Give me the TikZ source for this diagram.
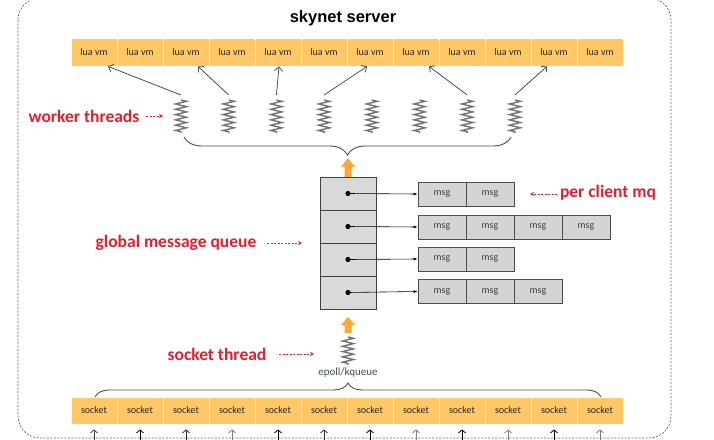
\documentclass[tikz,border=0pt]{standalone}
\usepackage{fontspec}
\setmainfont{Carlito}
\newfontfamily\titlefont{Liberation Sans}
\usetikzlibrary{arrows.meta,decorations.pathreplacing,decorations.pathmorphing,calc}
\definecolor{cellor}{HTML}{FFC766}
\definecolor{redlab}{HTML}{E0202E}
\definecolor{qgray}{HTML}{D9D9D9}
\definecolor{mgray}{HTML}{D4D4D4}
\definecolor{arror}{HTML}{FFA737}
\definecolor{epcol}{HTML}{3F4D5E}
\begin{document}
\begin{tikzpicture}[x=1pt,y=-1pt,
  cell/.style={draw=white, line width=0.8pt, fill=cellor, minimum width=46pt, minimum height=28pt, inner sep=0pt, font=\fontsize{10}{12}\selectfont, text=black!85},
  sockcell/.style={cell, minimum height=27pt},
  qrow/.style={draw=black!75, line width=0.8pt, fill=qgray, minimum width=56pt, minimum height=33pt, inner sep=0pt},
  msgcell/.style={draw=black!70, line width=0.8pt, fill=mgray, minimum width=48pt, minimum height=24pt, inner sep=0pt, font=\fontsize{10}{12}\selectfont, text=black!75},
  springst/.style={draw=black!55, line width=1.4pt, decorate, decoration={zigzag, segment length=5.3pt, amplitude=5.5pt}},
  warr/.style={draw=black!70, line width=0.8pt, -{Straight Barb[length=4pt,width=8pt]}},
  qarr/.style={draw=black, line width=0.6pt, -{Latex[length=4pt,width=3pt]}},
  sarr/.style={line width=0.8pt, -{Straight Barb[length=3pt,width=7pt]}, shorten >=5pt},
  brc/.style={draw=black!70, line width=0.9pt, decorate},
  redl/.style={text=redlab, font=\bfseries\fontsize{17.5}{20}\selectfont, inner sep=0pt},
  rdash/.style={draw=redlab, line width=0.7pt, dash pattern=on 2pt off 1.5pt, -{Stealth[length=4pt,width=4pt]}},
  framest/.style={draw=black!60, line width=0.7pt, dash pattern=on 2pt off 1.5pt, rounded corners=22pt},
  uparr/.pic={\fill[arror] (-3.5,0) -- (-3.5,-11) -- (-7,-11) -- (0,-20) -- (7,-11) -- (3.5,-11) -- (3.5,0) -- cycle;},
  uparrs/.pic={\fill[arror] (-3.5,0) -- (-3.5,-8) -- (-7,-8) -- (0,-16) -- (7,-8) -- (3.5,-8) -- (3.5,0) -- cycle;}
]
\useasboundingbox (0,0) rectangle (714,439);
% frame
\draw[framest] (18,-2) rectangle (671,438);
% title
\node[font=\titlefont\bfseries\fontsize{16.5}{18}\selectfont] (T) at (343,18) {skynet server};
% lua vm row
\foreach \i in {1,...,12} \node[cell] (L\i) at ({94+46*(\i-1)},52) {lua vm};
% worker springs
\foreach \i in {1,...,8} {
  \coordinate (W\i) at ({181+47.7*(\i-1)},95);
  \draw[springst] ($(W\i)+(0,5)$) -- ++(0,33);
}
% worker arrows
\draw[warr] (W1) -- ([xshift=14pt]L1.south);
\draw[warr] (W2) -- ([xshift=12pt]L3.south);
\draw[warr] (W3) -- ([xshift=1pt]L5.south);
\draw[warr] (W4) -- ([xshift=-3pt]L7.south);
\draw[warr] (W7) -- ([xshift=13pt]L8.south);
\draw[warr] (W8) -- ([xshift=-7pt]L11.south);
% upper brace
\coordinate (B1a) at (184,137);
\coordinate (B1b) at (511,137);
\draw[brc, decoration={brace, mirror, amplitude=18pt, aspect=0.5}] (B1a) -- (B1b);
% orange arrow to queue
\pic at (348,178) {uparr};
% global queue
\foreach \i in {1,...,4} {
  \node[qrow] (Q\i) at (348,{193.5+33*(\i-1)}) {};
  \fill (Q\i.center) circle (2.6pt);
}
% msg queues
\foreach \c in {1,2} \node[msgcell] (Ma\c) at ({442+48*(\c-1)},194) {msg};
\foreach \c in {1,...,4} \node[msgcell] (Mb\c) at ({442+48*(\c-1)},227) {msg};
\foreach \c in {1,2} \node[msgcell] (Mc\c) at ({442+48*(\c-1)},259) {msg};
\foreach \c in {1,...,3} \node[msgcell] (Md\c) at ({442+48*(\c-1)},291.5) {msg};
\draw[qarr] (Q1.center) -- (Ma1.west);
\draw[qarr] (Q2.center) -- (Mb1.west);
\draw[qarr] (Q3.center) -- (Mc1.west);
\draw[qarr] (Q4.center) -- (Md1.west);
% orange arrow from socket thread
\pic at (348,333) {uparrs};
% socket spring
\coordinate (SP) at (348,337);
\draw[springst] (SP) -- ++(0,28);
\node[font=\fontsize{11}{13}\selectfont, text=epcol, inner sep=0pt] (EP) at (348,373) {epoll/kqueue};
% lower brace
\coordinate (B2a) at (95,397);
\coordinate (B2b) at (601,397);
\draw[brc, decoration={brace, amplitude=14pt, aspect=0.5}] (B2a) -- (B2b);
% socket row
\foreach \i in {1,...,12} \node[sockcell] (S\i) at ({94+46*(\i-1)},410.5) {socket};
\foreach \i/\c in {1/black!75,2/black,3/black!85,4/black!50,5/black,6/black!80,7/black,8/black!50,9/black,10/black!50,11/black,12/black!50} {
  \coordinate (A\i) at ($(S\i.south)+(0,17)$);
  \draw[sarr, draw=\c] (A\i) -- (S\i.south);
}
% red labels
\node[redl] (WT) at (84,116) {worker threads};
\coordinate (WTe) at (163,116);
\draw[rdash] (146,116) -- (WTe);
\node[redl] (GQ) at (176,243) {global message queue};
\coordinate (GQe) at (302,243);
\draw[rdash] (267,243) -- (GQe);
\node[redl] (PC) at (608,193) {per client mq};
\coordinate (PCe) at (530,194);
\draw[rdash] (557,194) -- (PCe);
\node[redl] (ST) at (217,354) {socket thread};
\coordinate (STe) at (314,354);
\draw[rdash] (279,354) -- (STe);
\end{tikzpicture}
\end{document}
